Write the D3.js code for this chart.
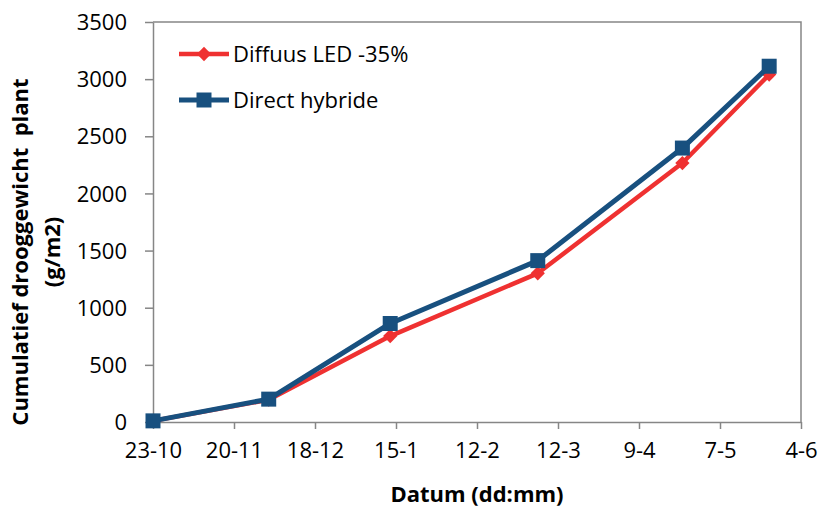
<!DOCTYPE html>
<html>
<head>
<meta charset="utf-8">
<script src="https://cdn.jsdelivr.net/npm/d3@7"></script>
<style>
  body { margin: 0; background: #fff; }
  svg text { font-family: "Open Sans", sans-serif; fill: #000; }
</style>
</head>
<body>
<svg id="chart" width="821" height="509"></svg>
<script>
// measurement dates (dd-mm), season 2012-2013
const dates = ["2012-10-23", "2012-12-02", "2013-01-13", "2013-03-05", "2013-04-24", "2013-05-24"];
const diffuusLed = [10, 195, 752, 1301, 2266, 3040];
const directHybride = [10, 200, 862, 1412, 2397, 3113];
const seriesNames = ["Diffuus LED -35%", "Direct hybride"];
const xTickDates = ["2012-10-23", "2012-11-20", "2012-12-18", "2013-01-15", "2013-02-12",
                    "2013-03-12", "2013-04-09", "2013-05-07", "2013-06-04"];
const yTicks = [0, 500, 1000, 1500, 2000, 2500, 3000, 3500];

const parse = d3.timeParse("%Y-%m-%d");
const margin = { top: 22, right: 20, bottom: 87, left: 153 };
const width = 801 - margin.left;
const height = 422 - margin.top;
const gray = "#868686";

const svg = d3.select("#chart");
const g = svg.append("g").attr("transform", `translate(${margin.left},${margin.top})`);

const x = d3.scaleTime()
    .domain([parse(xTickDates[0]), parse(xTickDates[xTickDates.length - 1])])
    .range([0, width]);
const y = d3.scaleLinear().domain([0, 3500]).range([height, 0]);

// plot area frame (top + right)
g.append("path")
    .attr("d", `M0,0H${width}V${height}`)
    .attr("fill", "none").attr("stroke", gray).attr("stroke-width", 1.5);

// y axis
const yAxis = g.append("g")
    .call(d3.axisLeft(y).tickValues(yTicks).tickFormat(d3.format("d"))
      .tickSize(8).tickPadding(18).tickSizeOuter(0));
yAxis.select(".domain").attr("stroke", gray).attr("stroke-width", 1.5);
yAxis.selectAll(".tick line").attr("stroke", gray).attr("stroke-width", 1.5);
yAxis.selectAll("text").style("font-size", "22px").attr("fill", "#000").attr("dy", "0.35em");

// x axis
const xAxis = g.append("g")
    .attr("transform", `translate(0,${height})`)
    .call(d3.axisBottom(x).tickValues(xTickDates.map(parse)).tickFormat(d3.timeFormat("%-d-%-m"))
      .tickSize(7).tickPadding(13).tickSizeOuter(0));
xAxis.select(".domain").attr("stroke", gray).attr("stroke-width", 1.5);
xAxis.selectAll(".tick line").attr("stroke", gray).attr("stroke-width", 1.5);
xAxis.selectAll("text").style("font-size", "22px").attr("fill", "#000");

// axis titles
svg.append("text")
    .attr("x", margin.left + width / 2)
    .attr("y", 502)
    .attr("text-anchor", "middle")
    .style("font-size", "22px").style("font-weight", "bold")
    .text("Datum (dd:mm)");

const yTitle = svg.append("text")
    .attr("transform", "translate(0,252) rotate(-90)")
    .attr("text-anchor", "middle")
    .style("font-size", "22px").style("font-weight", "bold");
yTitle.append("tspan").attr("x", 0).attr("y", 28).attr("xml:space", "preserve").text("Cumulatief drooggewicht  plant");
yTitle.append("tspan").attr("x", 0).attr("y", 60).text("(g/m2)");

// series
const series = [
  { name: seriesNames[0], values: diffuusLed, color: "#EF3131", width: 4.5, symbol: d3.symbolDiamond2, size: 130 },
  { name: seriesNames[1], values: directHybride, color: "#18507F", width: 5, symbol: d3.symbolSquare, size: 225 }
];

const line = d3.line().x(d => x(d.date)).y(d => y(d.value));

series.forEach(s => {
  const pts = dates.map((d, i) => ({ date: parse(d), value: s.values[i] }));
  g.append("path")
    .datum(pts)
    .attr("d", line)
    .attr("fill", "none")
    .attr("stroke", s.color)
    .attr("stroke-width", s.width)
    .attr("stroke-linejoin", "round");
  g.selectAll(null)
    .data(pts)
    .join("path")
    .attr("transform", d => `translate(${x(d.date)},${y(d.value)})`)
    .attr("d", d3.symbol(s.symbol, s.size))
    .attr("fill", s.color);
});

// legend
const legend = svg.append("g").attr("transform", "translate(179,54)");
series.forEach((s, i) => {
  const row = legend.append("g").attr("transform", `translate(0,${i * 46})`);
  row.append("line").attr("x1", 0).attr("x2", 50)
    .attr("stroke", s.color).attr("stroke-width", s.width);
  row.append("path").attr("transform", "translate(25,0)")
    .attr("d", d3.symbol(s.symbol, s.size)).attr("fill", s.color);
  row.append("text").attr("x", 54).attr("dy", "0.35em")
    .style("font-size", "22px").text(s.name);
});
</script>
</body>
</html>
